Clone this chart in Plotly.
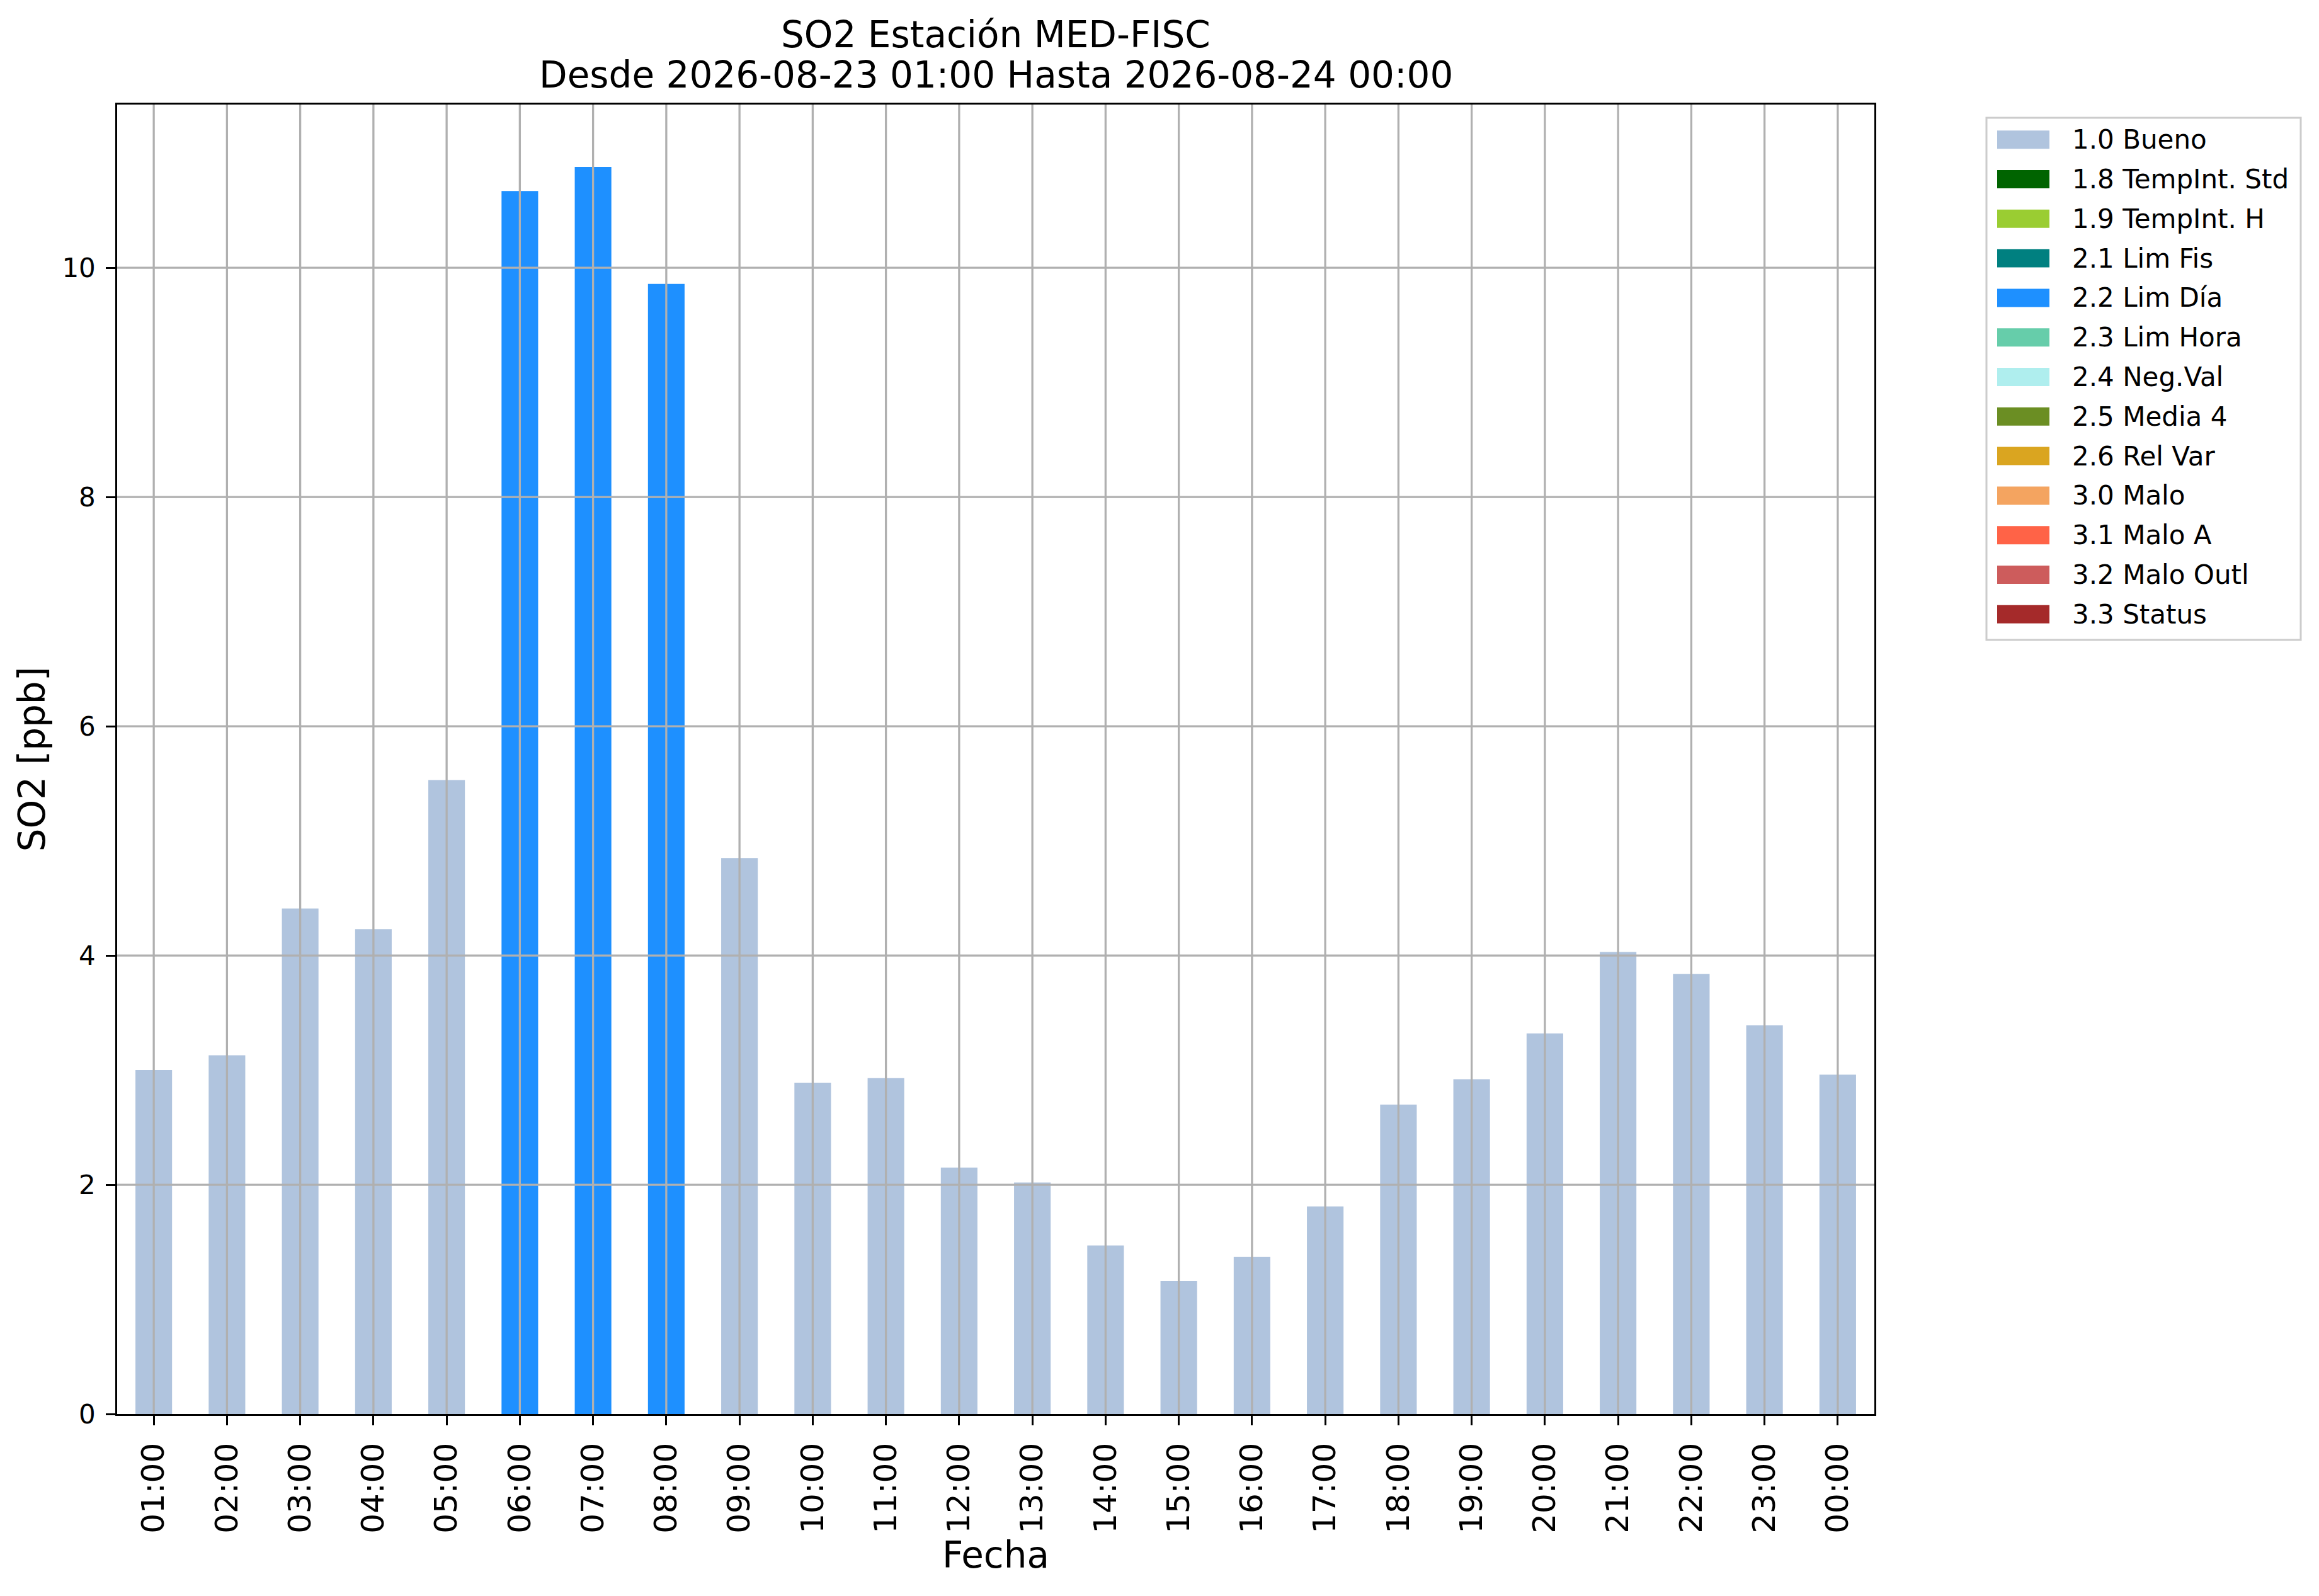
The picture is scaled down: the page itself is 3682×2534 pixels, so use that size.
import plotly.graph_objects as go

# datos
horas = ['01:00', '02:00', '03:00', '04:00', '05:00', '06:00', '07:00', '08:00',
         '09:00', '10:00', '11:00', '12:00', '13:00', '14:00', '15:00', '16:00',
         '17:00', '18:00', '19:00', '20:00', '21:00', '22:00', '23:00', '00:00']
so2 = [3.00, 3.13, 4.41, 4.23, 5.53, 10.67, 10.88, 9.86,
       4.85, 2.89, 2.93, 2.15, 2.02, 1.47, 1.16, 1.37,
       1.81, 2.70, 2.92, 3.32, 4.03, 3.84, 3.39, 2.96]
flags = ['1.0 Bueno'] * 5 + ['2.2 Lim Día'] * 3 + ['1.0 Bueno'] * 16

categorias = ['1.0 Bueno', '1.8 TempInt. Std', '1.9 TempInt. H', '2.1 Lim Fis',
              '2.2 Lim Día', '2.3 Lim Hora', '2.4 Neg.Val', '2.5 Media 4',
              '2.6 Rel Var', '3.0 Malo', '3.1 Malo A', '3.2 Malo Outl', '3.3 Status']
colores = ['lightsteelblue', 'darkgreen', 'yellowgreen', 'teal',
           'dodgerblue', 'mediumaquamarine', 'paleturquoise', 'olivedrab',
           'goldenrod', 'sandybrown', 'tomato', 'indianred', 'brown']
ytick_vals = [2, 4, 6, 8, 10]

color_de = dict(zip(categorias, colores))

W, H = 3682, 2534
OFF = 8                              # margen del <body> en la pagina
L, R, T, B = 186, 2976, 166, 2245    # area del grafico en px de la pagina
FONT = 'DejaVu Sans'
GRID = '#b0b0b0'


def px_x(p):
    return (p - L) / (R - L)


def px_y(p):
    return (B - p) / (B - T)


fig = go.Figure()
fig.add_trace(go.Bar(x=horas, y=so2, width=0.5,
                     marker=dict(color=[color_de[f] for f in flags], line_width=0),
                     showlegend=False))

# grilla por encima de las barras, como en matplotlib
shapes = []
for h in horas:
    shapes.append(dict(type='line', xref='x', yref='paper', x0=h, x1=h, y0=0, y1=1,
                       line=dict(color=GRID, width=3.3), layer='above'))
for v in ytick_vals:
    shapes.append(dict(type='line', xref='paper', yref='y', x0=0, x1=1, y0=v, y1=v,
                       line=dict(color=GRID, width=3.3), layer='above'))

# leyenda dibujada a mano (cajas anchas como en el original)
annotations = []
shapes.append(dict(type='rect', xref='paper', yref='paper',
                   x0=px_x(3154), x1=px_x(3653), y0=px_y(1016), y1=px_y(187),
                   line=dict(color='#cccccc', width=3), fillcolor='white'))
for i, (cat, col) in enumerate(zip(categorias, colores)):
    cy = 221.7 + i * 62.8
    shapes.append(dict(type='rect', xref='paper', yref='paper',
                       x0=px_x(3171), x1=px_x(3254), y0=px_y(cy + 14.5), y1=px_y(cy - 14.5),
                       line=dict(width=0), fillcolor=col))
    annotations.append(dict(text=cat, xref='paper', yref='paper', x=px_x(3288), y=px_y(cy),
                            xanchor='left', yanchor='middle', showarrow=False,
                            font=dict(family=FONT, size=42, color='black')))

# titulo en dos lineas
annotations.append(dict(text='SO2 Estación MED-FISC', xref='paper', yref='paper', x=0.5, y=1,
                        xanchor='center', yanchor='middle', yshift=111, showarrow=False,
                        font=dict(family=FONT, size=58, color='black')))
annotations.append(dict(text='Desde 2026-08-23 01:00 Hasta 2026-08-24 00:00', xref='paper',
                        yref='paper', x=0.5, y=1, xanchor='center', yanchor='middle', yshift=47,
                        showarrow=False, font=dict(family=FONT, size=58, color='black')))

fig.update_layout(
    width=W - OFF, height=H - OFF,
    margin=dict(l=L - OFF, r=W - R, t=T - OFF, b=H - B, pad=0),
    paper_bgcolor='white', plot_bgcolor='white',
    font=dict(family=FONT, color='black'),
    shapes=shapes, annotations=annotations,
    showlegend=False,
)
fig.update_xaxes(
    type='category', range=[-0.5, len(horas) - 0.5],
    showgrid=False, showline=True, linecolor='black', linewidth=3.3, mirror=True,
    ticks='outside', ticklen=14.6, tickwidth=3.3, tickcolor='black',
    tickangle=-90, tickfont=dict(size=50), ticklabelstandoff=8,
    title=dict(text='Fecha', font=dict(size=58), standoff=14),
)
fig.update_yaxes(
    range=[0, max(so2) * 1.05], tick0=0, dtick=2,
    showgrid=False, zeroline=False, showline=True, linecolor='black', linewidth=3.3, mirror=True,
    ticks='outside', ticklen=14.6, tickwidth=3.3, tickcolor='black',
    tickfont=dict(size=42), ticklabelstandoff=8,
    title=dict(text='SO2 [ppb]', font=dict(size=58), standoff=9),
)

fig.write_html('out.html')
